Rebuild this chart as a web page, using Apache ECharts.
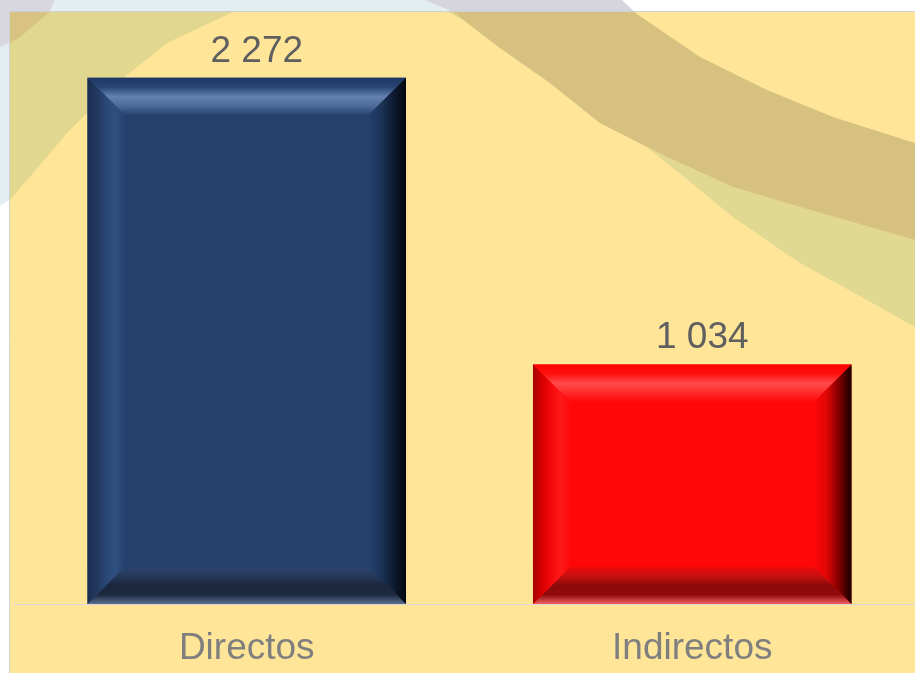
<!DOCTYPE html>
<html>
<head>
<meta charset="utf-8">
<script src="https://cdn.jsdelivr.net/npm/echarts@6/dist/echarts.min.js"></script>
<style>
  html, body { margin: 0; padding: 0; background: #fff; }
  #chart { width: 915px; height: 673px; }
</style>
</head>
<body>
<div id="chart"></div>
<script>
// datos del gráfico
const categories = ['Directos', 'Indirectos'];
const values = [2272, 1034];

// paletas de relieve (bisel) por barra
const palettes = [
  {
    main: '#25406C',
    top: ['#1E3663', '#2A4675', '#6581AF', '#4D6A9A', '#26416E'],
    bottom: ['#2A436E', '#26395A', '#1B263C', '#1D293F', '#5A6E90'],
    left: ['#1A2D4F', '#22395F', '#2B4777', '#30507F', '#26416E'],
    right: ['#25406C', '#1D3358', '#0F1B30', '#03060C']
  },
  {
    main: '#FF0707',
    top: ['#FF0000', '#FF1010', '#FF4A4A', '#FF2A2A', '#FF0808'],
    bottom: ['#F00A0A', '#C81010', '#8C0A0A', '#900A0A', '#F06060'],
    left: ['#A80000', '#D80000', '#F50A0A', '#FF1A1A', '#FF0808'],
    right: ['#FF0808', '#E00505', '#800000', '#150000']
  }
];

function lin(x2, y2, colors) {
  return {
    type: 'linear', x: 0, y: 0, x2: x2, y2: y2,
    colorStops: colors.map((c, i) => ({ offset: i / (colors.length - 1), color: c }))
  };
}

function fmt(v) {
  return String(v).replace(/\B(?=(\d{3})+(?!\d))/g, ' ');
}

const FONT = '"Liberation Sans", Arial, sans-serif';

const chart = echarts.init(document.getElementById('chart'), null, { renderer: 'canvas' });

// fondo de la diapositiva
const bgChildren = [
  { type: 'rect', shape: { x: 0, y: 0, width: 915, height: 673 }, style: { fill: '#FFFFFF' } },
  // franja superior
  { type: 'polygon', shape: { points: [[0, 0], [55, 0], [50, 11.5], [0, 11.5]] }, style: { fill: '#D8D6DF' } },
  { type: 'polygon', shape: { points: [[55, 0], [425, 0], [452, 11.5], [50, 11.5]] }, style: { fill: '#E2EEF0' } },
  { type: 'polygon', shape: { points: [[425, 0], [622, 0], [634, 11.5], [452, 11.5]] }, style: { fill: '#D6D4DD' } },
  // franja izquierda
  { type: 'polygon', shape: { points: [[0, 11], [9.5, 11], [9.5, 43], [0, 47]] }, style: { fill: '#D8D6DF' } },
  { type: 'polygon', shape: { points: [[0, 47], [9.5, 43], [9.5, 200], [0, 206]] }, style: { fill: '#E2EEF0' } },
  // título (cortado por arriba)
  { type: 'text', style: { text: 'Empleos', x: 491, y: -16, font: 'bold 32px ' + FONT, fill: '#000', align: 'left', verticalAlign: 'middle' } },
  // área del gráfico
  { type: 'rect', shape: { x: 9.5, y: 11.5, width: 910, height: 665 }, style: { fill: '#FFE597', stroke: '#CDD0D8', lineWidth: 1 } },
  { type: 'polygon', shape: { points: [[10, 12], [233, 12], [167, 43], [117, 83], [67, 133], [33, 173], [10, 200]] }, style: { fill: '#E1D78F' } },
  { type: 'polygon', shape: { points: [[10, 12], [50, 12], [20, 37], [10, 43]] }, style: { fill: '#D9C383' } },
  { type: 'polygon', shape: { points: [
    [448, 12], [467, 22], [533, 67], [600, 110], [667, 163], [733, 217], [800, 263], [867, 300], [915, 327],
    [915, 240], [800, 207], [733, 187], [667, 157], [600, 123], [550, 83], [500, 48], [453, 12]
  ] }, style: { fill: '#E1D891' } },
  { type: 'polygon', shape: { points: [
    [453, 12], [500, 48], [550, 83], [600, 123], [667, 157], [733, 187], [800, 207], [915, 240],
    [915, 143], [833, 117], [767, 90], [700, 57], [634, 12]
  ] }, style: { fill: '#D6C180' } },
  { type: 'line', shape: { x1: 14, y1: 604.5, x2: 25, y2: 604.5 }, style: { stroke: '#D9D9D9', lineWidth: 1 } }
];

const option = {
  animation: false,
  graphic: { elements: [{ type: 'group', z: -1, silent: true, children: bgChildren }] },
  grid: { left: 24, right: 0, top: 25, bottom: 69, outerBoundsMode: 'none' },
  xAxis: {
    type: 'category',
    data: categories,
    axisLine: { lineStyle: { color: '#D9D9D9', width: 1 } },
    axisTick: { show: false },
    axisLabel: { color: '#7F7F7F', fontSize: 37, fontFamily: FONT, margin: 26, lineHeight: 37 }
  },
  yAxis: { type: 'value', min: 0, max: 2500, show: false },
  series: [{
    type: 'custom',
    clip: false,
    z: 5,
    encode: { x: 0, y: 1 },
    data: values.map((v, i) => [i, v]),
    renderItem: function (params, api) {
      const idx = api.value(0);
      const val = api.value(1);
      const top = api.coord([idx, val]);
      const base = api.coord([idx, 0]);
      const bw = api.size([1, 0])[0] * 0.715;
      const l = top[0] - bw / 2, r = top[0] + bw / 2, t = top[1], b = base[1];
      const k = 37.5;
      const p = palettes[idx];
      return {
        type: 'group',
        children: [
          { type: 'rect', shape: { x: l, y: t, width: bw, height: b - t }, style: { fill: p.main } },
          { type: 'polygon', shape: { points: [[l, t], [r, t], [r - k, t + k], [l + k, t + k]] }, style: { fill: lin(0, 1, p.top) } },
          { type: 'polygon', shape: { points: [[l + k, b - k], [r - k, b - k], [r, b], [l, b]] }, style: { fill: lin(0, 1, p.bottom) } },
          { type: 'polygon', shape: { points: [[l, t], [l + k, t + k], [l + k, b - k], [l, b]] }, style: { fill: lin(1, 0, p.left) } },
          { type: 'polygon', shape: { points: [[r - k, t + k], [r, t], [r, b], [r - k, b - k]] }, style: { fill: lin(1, 0, p.right) } },
          {
            type: 'text',
            style: {
              text: fmt(val), x: top[0] + 10, y: t - 26.5,
              font: '37px ' + FONT, fill: '#5F5F5F', align: 'center', verticalAlign: 'middle'
            }
          }
        ]
      };
    }
  }]
};

chart.setOption(option);
</script>
</body>
</html>
